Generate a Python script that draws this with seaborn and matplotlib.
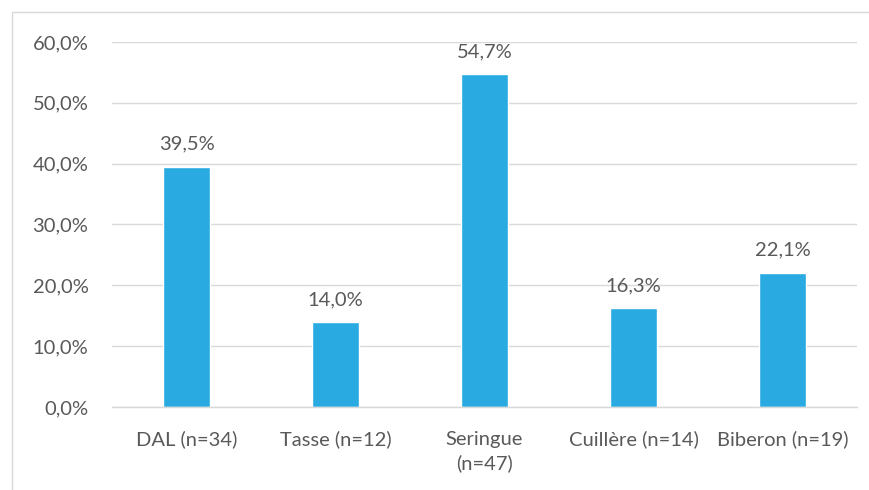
import matplotlib.pyplot as plt
import pandas as pd
import seaborn as sns
from matplotlib.patches import Rectangle
from matplotlib.ticker import FuncFormatter

categories = ["DAL (n=34)", "Tasse (n=12)", "Seringue\n(n=47)", "Cuillère (n=14)", "Biberon (n=19)"]
values = [39.5, 14.0, 54.7, 16.3, 22.1]
bar_color = "#29ABE2"
text_color = "#595959"

frame = pd.DataFrame({"category": categories, "value": values})

sns.set_theme(style="white")
plt.rcParams["font.family"] = ["Lato", "DejaVu Sans"]

fig = plt.figure(figsize=(8.69, 4.90), dpi=100)
ax = fig.add_axes([112 / 869, 1 - 407 / 490, (857 - 112) / 869, (407 - 42) / 490])

sns.barplot(data=frame, x="category", y="value", color=bar_color, width=0.31,
            saturation=1, ax=ax)

ax.set_ylim(0, 60)
ax.set_yticks(range(0, 61, 10))
ax.yaxis.set_major_formatter(FuncFormatter(lambda v, _: f"{v:.1f}%".replace(".", ",")))
ax.grid(axis="y", color="#D9D9D9", linewidth=1)
ax.set_axisbelow(True)
for side in ["top", "right", "left"]:
    ax.spines[side].set_visible(False)
ax.spines["bottom"].set_color("#D9D9D9")
ax.spines["bottom"].set_linewidth(1)
ax.tick_params(axis="both", length=0, labelsize=14.5, colors=text_color)
ax.tick_params(axis="x", pad=17)
ax.tick_params(axis="y", pad=17)
for label in ax.get_xticklabels():
    label.set_linespacing(1.45)
ax.set_xlabel("")
ax.set_ylabel("")

for container in ax.containers:
    ax.bar_label(container, labels=[f"{v:.1f}%".replace(".", ",") for v in values],
                 padding=10, fontsize=14.5, color=text_color)

fig.patches.append(Rectangle((12 / 869, -0.01), 1.0, 1 - 12 / 490 + 0.01, transform=fig.transFigure,
                             fill=False, edgecolor="#D9D9D9", linewidth=1))

fig.savefig("out.png", dpi=100)
